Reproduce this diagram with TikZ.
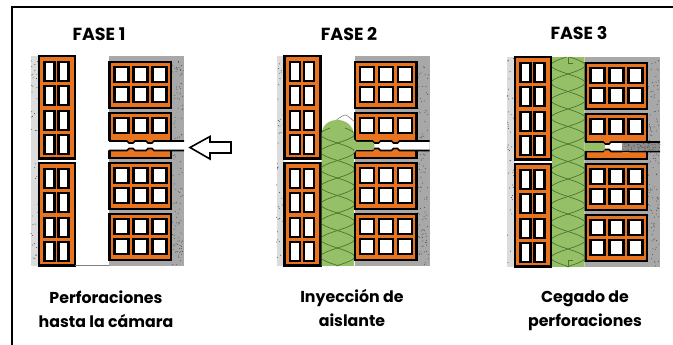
\documentclass[tikz,border=0pt]{standalone}
\usepackage{fontspec}
\setmainfont{Poppins}
\definecolor{brickcol}{RGB}{232,116,32}
\definecolor{wallcol}{RGB}{168,168,168}
\definecolor{plastercol}{RGB}{220,220,220}
\definecolor{woolcol}{RGB}{150,192,104}
\definecolor{woolline}{RGB}{72,120,44}
\definecolor{mortarcol}{RGB}{140,140,140}
\newcommand{\speckle}[5]{\foreach \i in {1,...,#5}
{\pgfmathsetmacro{\px}{#1+rnd*(#3-#1)}
\pgfmathsetmacro{\py}{#2+rnd*(#4-#2)}
\fill[black!70] (\px,\py) circle (0.5);
}}
\newcommand{\tallbrick}[1]{\draw[brickstyle] (39,#1) rectangle ++(36,102.5);
\foreach \y in {0,1,2,3}
 \foreach \x in {0,1}
{\draw[holestyle] (44.5+14*\x,#1+6+24.3*\y) rectangle ++(10,19);
}}
\newcommand{\widebrick}[2]{\draw[brickstyle] (109.5,#1) rectangle ++(61.5,#2);
\foreach \y in {0,1}
 \foreach \x in {0,1,2}
{\draw[holestyle] (114.5+19*\x,#1+5+20.3*\y) rectangle ++(14,15);
}}
\newcommand{\wall}{\fill[plastercol] (31,56) rectangle (38.5,266);
\fill[wallcol] (109,56) rectangle (184,266);
\speckle{31}{57}{38}{265}{40}
\speckle{172}{57}{183}{265}{110}
\tallbrick{56}
\tallbrick{163}
\widebrick{62}{46}
\widebrick{163}{46}
\widebrick{214}{46}
\draw[brickstyle] (109.5,113) rectangle ++(61.5,45);
\foreach \x in {0,1,2}
{\draw[holestyle] (114.5+19*\x,118) rectangle ++(14,15);
}
\fill[white] (108,141)--(127,141)--(129,143)--(133,143)--(135,141)--(146,141)--(148,143)--(152,143)--(154,141)--(184,141)
--(184,150.5)--(154,150.5)--(152,148.5)--(148,148.5)--(146,150.5)--(135,150.5)--(133,148.5)--(129,148.5)--(127,150.5)--(108,150.5)--cycle;
\draw[edgestyle] (109,141)--(127,141)--(129,143)--(133,143)--(135,141)--(146,141)--(148,143)--(152,143)--(154,141)--(184,141);
\draw[edgestyle] (109,150.5)--(127,150.5)--(129,148.5)--(133,148.5)--(135,150.5)--(146,150.5)--(148,148.5)--(152,148.5)--(154,150.5)--(184,150.5);
}
\newcommand{\woolwaves}[2]{\foreach \s in {1,-1}
{\draw[woolline,line width=0.7] plot[domain=#1:#2,samples=90,smooth,variable=\t] ({92+17*\s*cos((\t-134.25)/17.5*180)},\t);
}}
\tikzset{
brickstyle/.style={draw=black,fill=brickcol,line width=2.2},
holestyle/.style={draw=black,fill=white,line width=2.1},
edgestyle/.style={draw=black,line width=1.6},
woolstyle/.style={fill=woolcol},
titlestyle/.style={font=\bfseries\fontsize{17.5}{20}\selectfont},
notestyle/.style={font=\bfseries\fontsize{15.8}{23.5}\selectfont,align=center}
}
\begin{document}
\begin{tikzpicture}[x=1pt,y=-1pt]
\useasboundingbox (0,0) rectangle (673,345);
\fill[white] (0,0) rectangle (673,345);
\draw[black,line width=1.5] (12,345)--(12,7)--(673,7);

\node[titlestyle] (title1) at (99,34) {FASE 1};
\node[titlestyle] (title2) at (349,34) {FASE 2};
\node[titlestyle] (title3) at (579,33) {FASE 3};

\pgfmathsetseed{17}
\begin{scope}
\wall
\draw[gray,line width=0.8] (75,265.5)--(109,265.5);
\end{scope}

\begin{scope}[xshift=245.5pt]
\wall
\begin{scope}
\clip (76,266)--(76,134) .. controls (77,124) and (84,120) .. (92,120) .. controls (100,120) and (107,125) .. (108.5,134)--(108.5,266)--cycle;
\fill[woolstyle] (75,115) rectangle (109,266);
\woolwaves{128}{266}
\end{scope}
\draw[gray,line width=0.6] (91,120) .. controls (95,117) and (98,115) .. (100,115) .. controls (103,116) and (106,119) .. (109,122);
\fill[woolstyle] (108.5,139.5)--(111,141.8)--(127,141.8)--(129,143.8)--(128.5,149.7)--(111,149.7)--(108.5,153)--cycle;
\end{scope}

\begin{scope}[xshift=476pt,yshift=-1pt]
\wall
\begin{scope}
\clip (76,56) rectangle (108.5,266);
\fill[woolstyle] (76,56) rectangle (108.5,266);
\woolwaves{56}{266}
\end{scope}
\draw[woolline,line width=0.7] (92,56)--(92,62)--(97,62);
\draw[woolline,line width=0.7] (92,266)--(92,259)--(97,259);
\fill[woolstyle] (108.5,141.8)--(127,141.8)--(129,143.8)--(128.5,149.7)--(108.5,149.7)--cycle;
\fill[mortarcol] (146,141.5) rectangle (184,150);
\speckle{146}{142}{184}{150}{60}
\draw[edgestyle] (146,141)--(184,141) (146,150.5)--(184,150.5);
\end{scope}

\draw[black,line width=1.6] (190,147.5)--(210,136.5)--(210,142)--(231,142)--(231,153)--(210,153)--(210,159)--cycle;

\node[notestyle] (note1) at (106,309) {Perforaciones\\hasta la cámara};
\node[notestyle] (note2) at (352,308) {Inyección de\\aislante};
\node[notestyle] (note3) at (585,311) {Cegado de\\perforaciones};
\end{tikzpicture}
\end{document}
